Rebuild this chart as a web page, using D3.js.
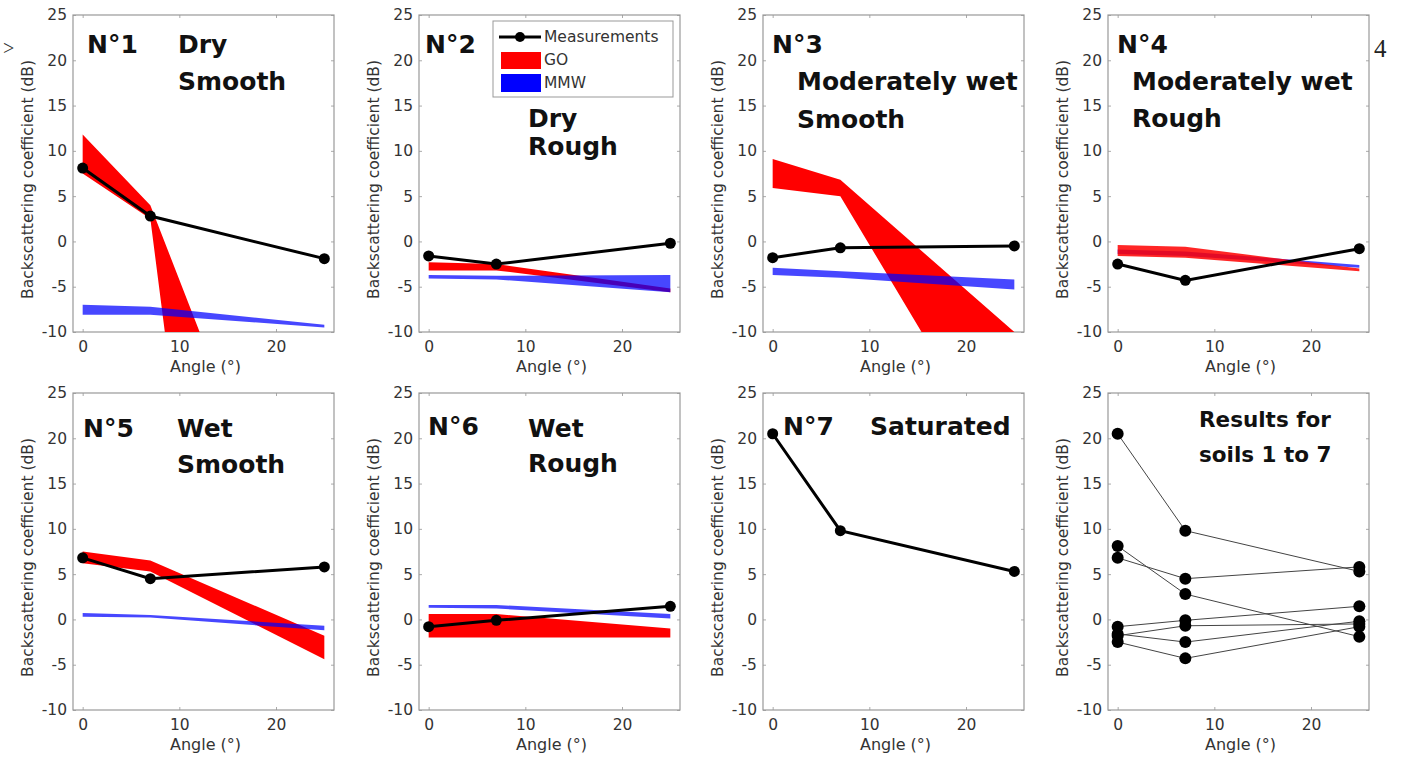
<!DOCTYPE html>
<html>
<head>
<meta charset="utf-8">
<script src="https://cdn.jsdelivr.net/npm/d3@7"></script>
<style>
  body { margin: 0; background: #fff; }
  svg { display: block; }
  .tick text { font-family: "DejaVu Sans", sans-serif; font-size: 15.5px; fill: #333; }
  .tick line { stroke: #aaa; }
</style>
</head>
<body>
<div id="chart"></div>
<script>
// soils and their labels
var soilNames = ["N°1", "N°2", "N°3", "N°4", "N°5", "N°6", "N°7"];
var soilLabels = [["Dry", "Smooth"], ["Dry", "Rough"], ["Moderately wet", "Smooth"],
                  ["Moderately wet", "Rough"], ["Wet", "Smooth"], ["Wet", "Rough"], ["Saturated"]];

// measurement angles (deg) and backscattering (dB)
var angles = [0, 7, 25];
var measured = [
  [8.1, 2.8, -1.9],
  [-1.6, -2.5, -0.2],
  [-1.8, -0.7, -0.5],
  [-2.5, -4.3, -0.8],
  [6.8, 4.5, 5.8],
  [-0.8, -0.1, 1.45],
  [20.5, 9.8, 5.3]
];

// GO model band, [angle, dB] along upper and lower edge
var goUpper = [
  [[0, 11.8], [7, 4.0], [12.1, -10]],
  [[0, -2.3], [7, -2.5], [25, -5.2]],
  [[0, 9.1], [7, 6.8], [25, -10]],
  [[0, -0.4], [7, -0.6], [25, -3.0]],
  [[0, 7.5], [7, 6.5], [25, -1.8]],
  [[0, 0.6], [7, 0.6], [25, -1.0]],
  null
];
var goLower = [
  [[0, 7.5], [7, 2.5], [8.5, -10]],
  [[0, -3.2], [7, -3.2], [25, -5.6]],
  [[0, 5.9], [7, 5.0], [15.4, -10]],
  [[0, -1.6], [7, -1.8], [25, -3.3]],
  [[0, 6.2], [7, 5.3], [25, -4.4]],
  [[0, -2.0], [7, -2.0], [25, -2.0]],
  null
];

// MMW model band
var mmwUpper = [
  [[0, -7.0], [7, -7.2], [25, -9.2]],
  [[0, -3.7], [7, -3.8], [25, -3.7]],
  [[0, -2.9], [7, -3.3], [25, -4.2]],
  [[0, -0.9], [7, -1.1], [25, -2.6]],
  [[0, 0.7], [7, 0.5], [25, -0.7]],
  [[0, 1.6], [7, 1.6], [25, 0.6]],
  null
];
var mmwLower = [
  [[0, -8.1], [7, -8.1], [25, -9.5]],
  [[0, -4.1], [7, -4.2], [25, -5.6]],
  [[0, -3.7], [7, -4.0], [25, -5.3]],
  [[0, -1.4], [7, -1.6], [25, -2.9]],
  [[0, 0.3], [7, 0.2], [25, -1.2]],
  [[0, 1.3], [7, 1.2], [25, 0.1]],
  null
];

var xTicks = [0, 10, 20];
var yTicks = [-10, -5, 0, 5, 10, 15, 20, 25];
var legendItems = ["Measurements", "GO", "MMW"];

var width = 1401, height = 759;
var pw = 261, ph = 317;
var colLeft = [73, 419, 763, 1108];
var rowTop = [15, 393];

// label placement per panel (px from panel top-left): number, first line, second line
var labelPos = [
  {nx: 14, ny: 38, tx: 105, ty: 38, t2: 75},
  {nx: 6,  ny: 38, tx: 109, ty: 112, t2: 140},
  {nx: 9,  ny: 38, tx: 34,  ty: 75, t2: 113},
  {nx: 9,  ny: 38, tx: 24,  ty: 75, t2: 112},
  {nx: 10, ny: 44, tx: 104, ty: 44, t2: 80},
  {nx: 9,  ny: 42, tx: 109, ty: 44, t2: 79},
  {nx: 20, ny: 42, tx: 107, ty: 42, t2: 0}
];
// soil 4: the GO band is painted over the MMW band
var redOnTop = [false, false, false, true, false, false, false];

var svg = d3.select("#chart").append("svg")
    .attr("width", width)
    .attr("height", height);

var x = d3.scaleLinear().domain([-1, 26]).range([0, pw]);
var y = d3.scaleLinear().domain([-10, 25]).range([ph, 0]);

var line = d3.line().x(function(d) { return x(d[0]); }).y(function(d) { return y(d[1]); });

function bandPath(up, lo) {
  return line(up.concat(lo.slice().reverse())) + "Z";
}

function plain(d) { return String(d); }   // keep the ascii hyphen like the original

function drawAxes(g, idx) {
  g.append("rect")
      .attr("width", pw).attr("height", ph)
      .attr("fill", "#fff");

  g.append("g").attr("transform", "translate(0," + ph + ")")
      .call(d3.axisBottom(x).tickValues(xTicks).tickSize(-3).tickPadding(9).tickFormat(plain));
  g.append("g")
      .call(d3.axisLeft(y).tickValues(yTicks).tickSize(-3).tickPadding(6).tickFormat(plain));
  g.append("g").call(d3.axisTop(x).tickValues(xTicks).tickSize(-3).tickFormat(""));
  g.append("g").attr("transform", "translate(" + pw + ",0)")
      .call(d3.axisRight(y).tickValues(yTicks).tickSize(-3).tickFormat(""));
  g.selectAll(".domain").remove();

  g.append("rect")
      .attr("width", pw).attr("height", ph)
      .attr("fill", "none")
      .attr("stroke", "#999")
      .attr("stroke-width", 1.2);

  g.append("text")
      .attr("x", pw / 2 + 2)
      .attr("y", ph + 40)
      .attr("text-anchor", "middle")
      .style("font-family", "DejaVu Sans, sans-serif")
      .style("font-size", "16px")
      .attr("fill", "#333")
      .text("Angle (°)");

  g.append("text")
      .attr("transform", "translate(-45," + (ph / 2 + 6) + ") rotate(-90)")
      .attr("text-anchor", "middle")
      .attr("dy", "0.35em")
      .style("font-family", "DejaVu Sans, sans-serif")
      .style("font-size", "15.5px")
      .attr("fill", "#333")
      .text("Backscattering coefficient (dB)");

  g.append("clipPath").attr("id", "clip" + idx)
    .append("rect").attr("width", pw).attr("height", ph);
}

function bigText(g, tx, ty, str, size) {
  g.append("text")
      .attr("x", tx).attr("y", ty)
      .style("font-family", "DejaVu Sans, sans-serif")
      .style("font-weight", "bold")
      .style("font-size", (size || 25) + "px")
      .attr("fill", "#111")
      .text(str);
}

// panels 1..7
soilNames.forEach(function(name, i) {
  var g = svg.append("g")
      .attr("transform", "translate(" + colLeft[i % 4] + "," + rowTop[Math.floor(i / 4)] + ")");
  drawAxes(g, i);

  var plot = g.append("g").attr("clip-path", "url(#clip" + i + ")");
  if (goUpper[i]) {
    var red = function() {
      plot.append("path")
          .attr("d", bandPath(goUpper[i], goLower[i]))
          .attr("fill", "#ff0000")
          .attr("fill-opacity", redOnTop[i] ? 0.85 : 1);
    };
    if (!redOnTop[i]) red();
    plot.append("path")
        .attr("d", bandPath(mmwUpper[i], mmwLower[i]))
        .attr("fill", "#0000ff")
        .attr("fill-opacity", 0.72);
    if (redOnTop[i]) red();
  }

  var pts = angles.map(function(a, k) { return [a, measured[i][k]]; });
  g.append("path")
      .attr("d", line(pts))
      .attr("fill", "none")
      .attr("stroke", "#000")
      .attr("stroke-width", 3);
  g.selectAll(".m").data(pts).enter().append("circle")
      .attr("cx", function(d) { return x(d[0]); })
      .attr("cy", function(d) { return y(d[1]); })
      .attr("r", 5.5)
      .attr("fill", "#000");

  var p = labelPos[i];
  bigText(g, p.nx, p.ny, name);
  bigText(g, p.tx, p.ty, soilLabels[i][0]);
  if (soilLabels[i][1]) bigText(g, p.tx, p.t2, soilLabels[i][1]);
});

// legend in panel 2
var lg = svg.append("g").attr("transform", "translate(493,21)");
lg.append("rect")
    .attr("width", 180).attr("height", 76)
    .attr("fill", "#fff")
    .attr("stroke", "#999");
lg.append("line").attr("x1", 6).attr("x2", 48).attr("y1", 16).attr("y2", 16)
    .attr("stroke", "#000").attr("stroke-width", 3);
lg.append("circle").attr("cx", 27).attr("cy", 16).attr("r", 5).attr("fill", "#000");
lg.append("rect").attr("x", 8).attr("y", 31).attr("width", 40).attr("height", 17).attr("fill", "#ff0000");
lg.append("rect").attr("x", 8).attr("y", 53).attr("width", 40).attr("height", 18).attr("fill", "#0000ff");
legendItems.forEach(function(t, k) {
  lg.append("text")
      .attr("x", 51).attr("y", 16 + k * 23)
      .attr("dy", "0.35em")
      .style("font-family", "DejaVu Sans, sans-serif")
      .style("font-size", "15.5px")
      .attr("fill", "#333")
      .text(t);
});

// panel 8: all soils together
var g8 = svg.append("g").attr("transform", "translate(" + colLeft[3] + "," + rowTop[1] + ")");
drawAxes(g8, 7);
measured.forEach(function(row) {
  var pts = angles.map(function(a, k) { return [a, row[k]]; });
  g8.append("path")
      .attr("d", line(pts))
      .attr("fill", "none")
      .attr("stroke", "#444")
      .attr("stroke-width", 1);
  g8.selectAll(null).data(pts).enter().append("circle")
      .attr("cx", function(d) { return x(d[0]); })
      .attr("cy", function(d) { return y(d[1]); })
      .attr("r", 6)
      .attr("fill", "#000");
});
bigText(g8, 91, 34, "Results for", 21.5);
bigText(g8, 91, 69, "soils 1 to 7", 21.5);

// stray page marks
svg.append("text").attr("x", 3).attr("y", 55)
    .style("font-family", "Liberation Serif, serif").style("font-size", "20px")
    .attr("fill", "#333")
    .text(">");
svg.append("text").attr("x", 1374).attr("y", 57)
    .style("font-family", "Liberation Serif, serif").style("font-size", "25px")
    .attr("fill", "#222")
    .text("4");
</script>
</body>
</html>
